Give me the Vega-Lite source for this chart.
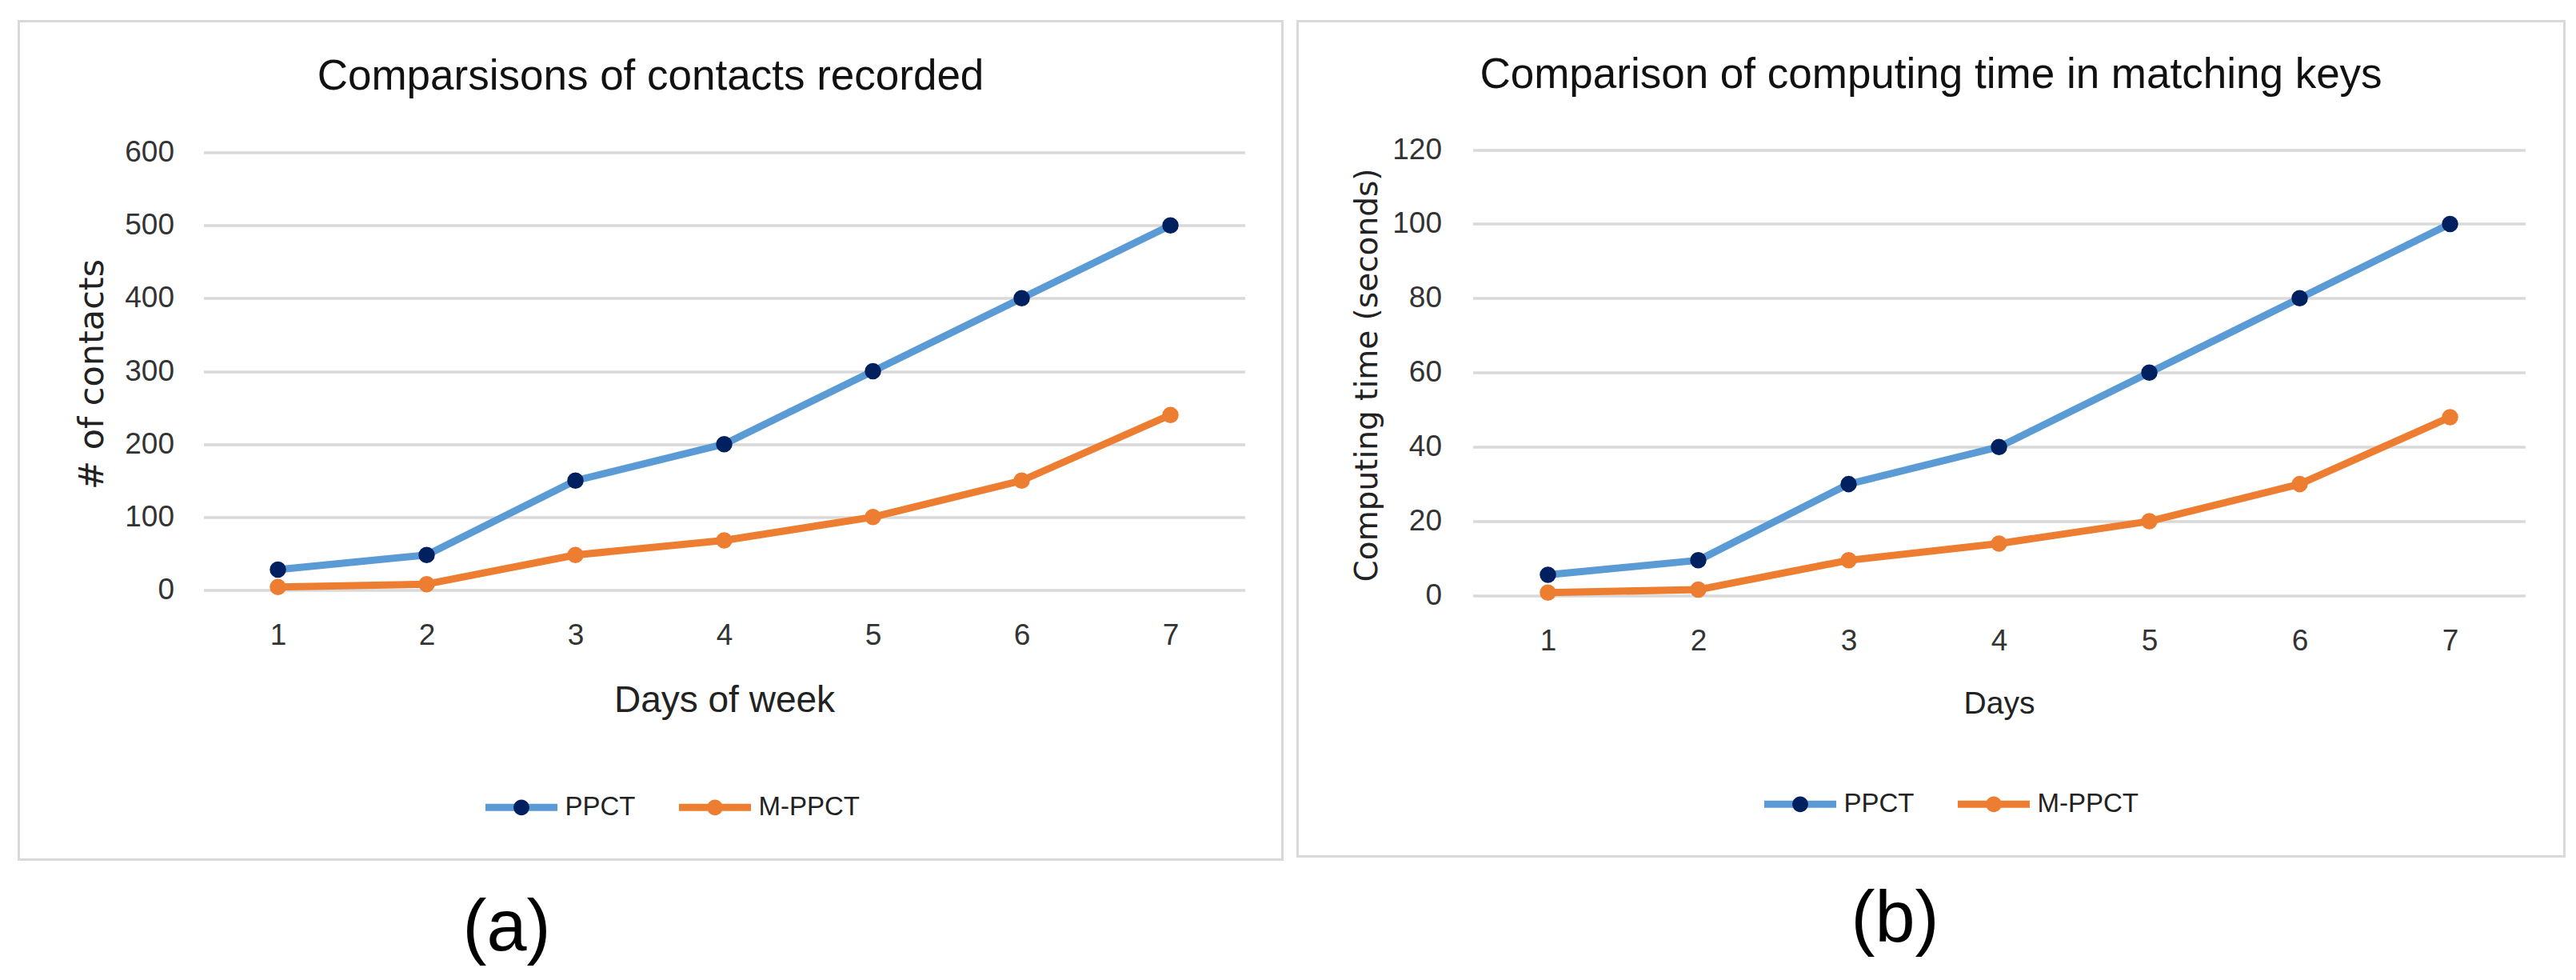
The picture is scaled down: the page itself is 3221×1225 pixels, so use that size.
{
  "$schema": "https://vega.github.io/schema/vega-lite/v6.json",
  "background": "white",
  "padding": {"left": 21.5, "top": 24.5, "right": 10, "bottom": 10},
  "spacing": 15,
  "config": {
    "view": {"stroke": "#D9D9D9", "strokeWidth": 3, "fill": "white"},
    "axis": {
      "labelFont": "Liberation Sans",
      "labelFontSize": 37,
      "labelColor": "#333333",
      "titleFont": "Liberation Sans",
      "titleColor": "#222222",
      "titleFontWeight": "normal",
      "gridColor": "#D9D9D9",
      "gridWidth": 3.5,
      "domain": false,
      "ticks": false,
      "tickSize": 0,
      "labelOverlap": false
    },
    "axisX": {"grid": false}
  },
  "datasets": {
    "a": [
      {"day": 1, "series": "PPCT", "value": 28},
      {"day": 2, "series": "PPCT", "value": 48},
      {"day": 3, "series": "PPCT", "value": 150},
      {"day": 4, "series": "PPCT", "value": 200},
      {"day": 5, "series": "PPCT", "value": 300},
      {"day": 6, "series": "PPCT", "value": 400},
      {"day": 7, "series": "PPCT", "value": 500},
      {"day": 1, "series": "M-PPCT", "value": 4},
      {"day": 2, "series": "M-PPCT", "value": 8},
      {"day": 3, "series": "M-PPCT", "value": 48},
      {"day": 4, "series": "M-PPCT", "value": 68},
      {"day": 5, "series": "M-PPCT", "value": 100},
      {"day": 6, "series": "M-PPCT", "value": 150},
      {"day": 7, "series": "M-PPCT", "value": 240}
    ],
    "b": [
      {"day": 1, "series": "PPCT", "value": 5.6},
      {"day": 2, "series": "PPCT", "value": 9.5},
      {"day": 3, "series": "PPCT", "value": 30},
      {"day": 4, "series": "PPCT", "value": 40},
      {"day": 5, "series": "PPCT", "value": 60},
      {"day": 6, "series": "PPCT", "value": 80},
      {"day": 7, "series": "PPCT", "value": 100},
      {"day": 1, "series": "M-PPCT", "value": 0.8},
      {"day": 2, "series": "M-PPCT", "value": 1.6},
      {"day": 3, "series": "M-PPCT", "value": 9.5},
      {"day": 4, "series": "M-PPCT", "value": 14},
      {"day": 5, "series": "M-PPCT", "value": 20},
      {"day": 6, "series": "M-PPCT", "value": 30},
      {"day": 7, "series": "M-PPCT", "value": 48}
    ]
  },
  "resolve": {
    "scale": {"stroke": "independent", "fill": "independent"},
    "legend": {"stroke": "independent", "fill": "independent"}
  },
  "hconcat": [
    {
      "title": {"text": "(a)", "orient": "bottom", "anchor": "middle", "frame": "group", "offset": 111.5, "baseline": "alphabetic", "dx": 610, "fontSize": 90, "font": "Liberation Sans", "fontWeight": "normal", "color": "#000000"},
      "resolve": {
        "scale": {"stroke": "independent", "fill": "independent"},
        "legend": {"stroke": "independent", "fill": "independent"}
      },
      "vconcat": [
        {
          "width": 1580,
          "height": 1048,
          "title": {"text": "Comparsisons of contacts recorded", "anchor": "middle", "frame": "group", "offset": -138, "baseline": "alphabetic", "fontSize": 53, "font": "Liberation Sans", "fontWeight": "normal", "color": "#111111"},
          "data": {"name": "a"},
          "encoding": {
            "x": {
              "field": "day", "type": "ordinal",
              "scale": {"type": "point", "range": [231, 1533], "padding": 0.5},
              "axis": {"title": "Days of week", "titleFontSize": 46, "offset": -269, "labelPadding": 0, "labelBaseline": "alphabetic", "titleBaseline": "alphabetic", "titleY": 84, "labelAngle": 0}
            },
            "y": {
              "field": "value", "type": "quantitative",
              "scale": {"domain": [0, 600], "range": [711, 164], "nice": false},
              "axis": {"title": "# of contacts", "values": [0, 100, 200, 300, 400, 500, 600], "offset": -196, "labelPadding": 2, "titleFont": "DejaVu Sans", "titleFontSize": 43, "titleX": -91.4, "titleY": 441, "titleAngle": 270, "titleBaseline": "alphabetic", "titleAlign": "center"}
            }
          },
          "layer": [
            {
              "mark": {"type": "line", "strokeWidth": 9, "strokeJoin": "round", "strokeCap": "round"},
              "encoding": {
                "stroke": {
                  "field": "series", "type": "nominal", "sort": ["PPCT", "M-PPCT"],
                  "scale": {"range": ["#5B9BD5", "#ED7D31"]},
                  "legend": {"title": null, "orient": "none", "legendX": 579, "legendY": 933, "direction": "horizontal", "symbolType": "M-1,0L1,0", "symbolSize": 8100, "symbolStrokeWidth": 9, "labelFont": "Liberation Sans", "labelFontSize": 33, "labelColor": "#222222", "labelOffset": 5, "columnPadding": 35, "padding": 0, "zindex": 1}
                }
              }
            },
            {
              "mark": {"type": "point", "filled": true, "size": 420, "opacity": 1},
              "encoding": {
                "fill": {
                  "field": "series", "type": "nominal",
                  "scale": {"domain": ["PPCT", "M-PPCT"], "range": ["#002060", "#ED7D31"]},
                  "legend": {"title": null, "orient": "none", "legendX": 579, "legendY": 933, "direction": "horizontal", "symbolType": "M-1,0L1,0M0.22,0A0.22,0.22,0,1,1,-0.22,0A0.22,0.22,0,1,1,0.22,0Z", "symbolSize": 8100, "symbolStrokeWidth": 9, "symbolStrokeColor": "transparent", "labelFont": "Liberation Sans", "labelFontSize": 33, "labelOpacity": 0, "labelOffset": 5, "columnPadding": 35, "padding": 0, "zindex": 2}
                }
              }
            }
          ]
        }
      ]
    },
    {
      "title": {"text": "(b)", "orient": "bottom", "anchor": "middle", "frame": "group", "offset": 104.5, "baseline": "alphabetic", "dx": 747, "fontSize": 90, "font": "Liberation Sans", "fontWeight": "normal", "color": "#000000"},
      "resolve": {
        "scale": {"stroke": "independent", "fill": "independent"},
        "legend": {"stroke": "independent", "fill": "independent"}
      },
      "vconcat": [
        {
          "width": 1584,
          "height": 1044,
          "title": {"text": "Comparison of computing time in matching keys", "anchor": "middle", "frame": "group", "offset": -136.5, "baseline": "alphabetic", "fontSize": 53, "font": "Liberation Sans", "fontWeight": "normal", "color": "#111111"},
          "data": {"name": "b"},
          "encoding": {
            "x": {
              "field": "day", "type": "ordinal",
              "scale": {"type": "point", "range": [219, 1535], "padding": 0.5},
              "axis": {"title": "Days", "titleFontSize": 39, "offset": -258, "labelPadding": 0, "labelBaseline": "alphabetic", "titleBaseline": "alphabetic", "titleY": 79, "labelAngle": 0}
            },
            "y": {
              "field": "value", "type": "quantitative",
              "scale": {"domain": [0, 120], "range": [718, 160.5], "nice": false},
              "axis": {"title": "Computing time (seconds)", "values": [0, 20, 40, 60, 80, 100, 120], "offset": -182, "labelPadding": 2, "titleFont": "DejaVu Sans", "titleFontSize": 39, "titleX": -83, "titleY": 442, "titleAngle": 270, "titleBaseline": "alphabetic", "titleAlign": "center"}
            }
          },
          "layer": [
            {
              "mark": {"type": "line", "strokeWidth": 9, "strokeJoin": "round", "strokeCap": "round"},
              "encoding": {
                "stroke": {
                  "field": "series", "type": "nominal", "sort": ["PPCT", "M-PPCT"],
                  "scale": {"range": ["#5B9BD5", "#ED7D31"]},
                  "legend": {"title": null, "orient": "none", "legendX": 579, "legendY": 929, "direction": "horizontal", "symbolType": "M-1,0L1,0", "symbolSize": 8100, "symbolStrokeWidth": 9, "labelFont": "Liberation Sans", "labelFontSize": 33, "labelColor": "#222222", "labelOffset": 5, "columnPadding": 35, "padding": 0, "zindex": 1}
                }
              }
            },
            {
              "mark": {"type": "point", "filled": true, "size": 420, "opacity": 1},
              "encoding": {
                "fill": {
                  "field": "series", "type": "nominal",
                  "scale": {"domain": ["PPCT", "M-PPCT"], "range": ["#002060", "#ED7D31"]},
                  "legend": {"title": null, "orient": "none", "legendX": 579, "legendY": 929, "direction": "horizontal", "symbolType": "M-1,0L1,0M0.22,0A0.22,0.22,0,1,1,-0.22,0A0.22,0.22,0,1,1,0.22,0Z", "symbolSize": 8100, "symbolStrokeWidth": 9, "symbolStrokeColor": "transparent", "labelFont": "Liberation Sans", "labelFontSize": 33, "labelOpacity": 0, "labelOffset": 5, "columnPadding": 35, "padding": 0, "zindex": 2}
                }
              }
            }
          ]
        }
      ]
    }
  ]
}
